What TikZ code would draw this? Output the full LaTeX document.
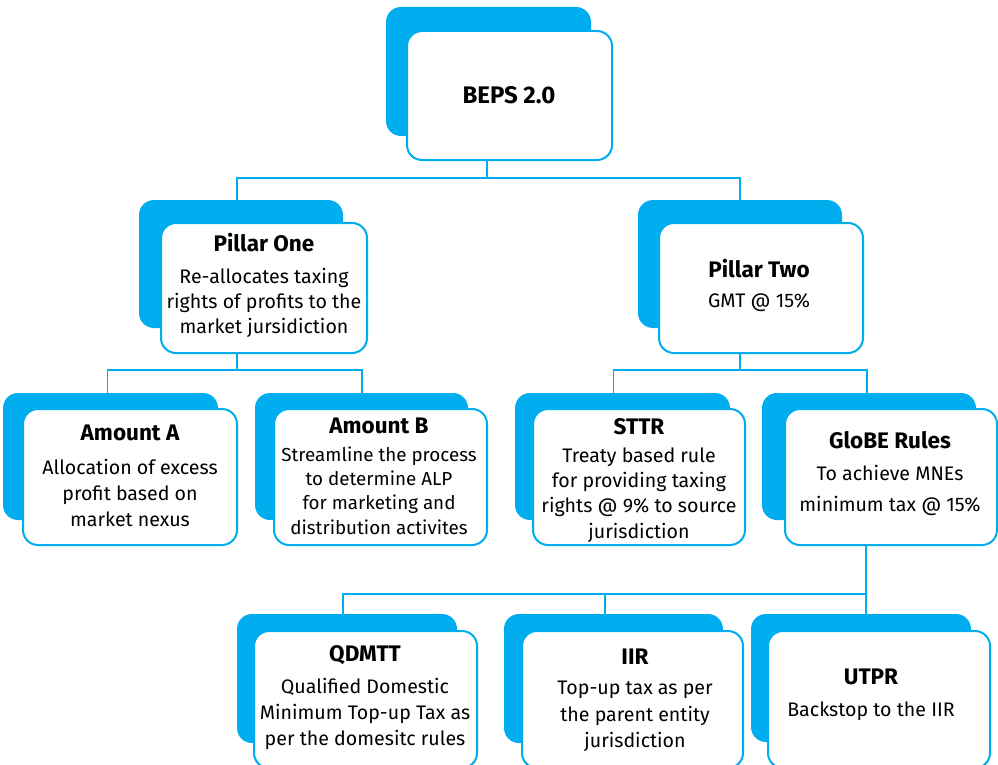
\documentclass[tikz,border=0pt]{standalone}
\usepackage{fontspec}
\setmainfont{Fira Sans}
\definecolor{beps}{RGB}{0,174,239}
\begin{document}
\begin{tikzpicture}[x=1pt,y=-1pt,
  backbox/.style={fill=beps,draw=none,rounded corners=15pt,inner sep=0pt},
  frontbox/.style={fill=white,draw=beps,line width=2pt,rounded corners=15pt,inner sep=0pt},
  link/.style={draw=beps,line width=1.8pt},
  ttl/.style={font=\fontsize{22.5}{26}\selectfont\bfseries,inner sep=0pt},
  body/.style={align=center,inner sep=0pt,font=\fontsize{19.6}{#1}\selectfont},
  body/.default=25]
\useasboundingbox (0,0) rectangle (998,765);
\begin{scope}
\clip (0,0) rectangle (998,765);
% top level
\node[backbox,minimum width=205pt,minimum height=129pt] (bepsB) at (488.5,71.5) {};
\node[frontbox,minimum width=205pt,minimum height=129pt] (bepsF) at (509.5,95.5) {};
% pillars
\node[backbox,minimum width=204pt,minimum height=128pt] (p1B) at (241,264) {};
\node[frontbox,minimum width=206pt,minimum height=130pt] (p1F) at (264,288) {};
\node[backbox,minimum width=204pt,minimum height=128pt] (p2B) at (740,264) {};
\node[frontbox,minimum width=204pt,minimum height=130pt] (p2F) at (761,288) {};
% second row
\node[backbox,minimum width=215pt,minimum height=127pt] (aaB) at (110.5,456.5) {};
\node[frontbox,minimum width=214pt,minimum height=136pt] (aaF) at (130,477) {};
\node[backbox,minimum width=213pt,minimum height=127pt] (abB) at (361.5,456.5) {};
\node[frontbox,minimum width=213pt,minimum height=136pt] (abF) at (380.5,477) {};
\node[backbox,minimum width=215pt,minimum height=127pt] (stB) at (622.5,456.5) {};
\node[frontbox,minimum width=212pt,minimum height=136pt] (stF) at (639,477) {};
\node[backbox,minimum width=214pt,minimum height=127pt] (glB) at (869,456.5) {};
\node[frontbox,minimum width=212pt,minimum height=136pt] (glF) at (891,477) {};
% third row
\node[backbox,minimum width=220pt,minimum height=129pt] (qdB) at (347,678.5) {};
\node[frontbox,minimum width=223pt,minimum height=137pt] (qdF) at (365.5,699.5) {};
\node[backbox,minimum width=219pt,minimum height=129pt] (iiB) at (613.5,678.5) {};
\node[frontbox,minimum width=221pt,minimum height=137pt] (iiF) at (632.5,699.5) {};
\node[backbox,minimum width=220pt,minimum height=128pt] (utB) at (861,678) {};
\node[frontbox,minimum width=222pt,minimum height=137pt] (utF) at (879,699.5) {};
\end{scope}

% connectors
\coordinate (j0) at (487,178);
\draw[link] (bepsF.south -| j0) -- (j0);
\draw[link] ([xshift=-4pt]p1B.north) |- (j0) -| (p2B.north);
\coordinate (j1) at (237,370);
\draw[link] (p1F.south -| j1) -- (j1);
\draw[link] ([xshift=-3pt]aaB.north) |- (j1) -| ([xshift=0.5pt]abB.north);
\coordinate (j2) at (740,370);
\draw[link] (p2F.south -| j2) -- (j2);
\draw[link] ([xshift=-9pt]stB.north) |- (j2) -| ([xshift=-2pt]glB.north);
\coordinate (j3) at (866,594);
\draw[link] (glF.south -| j3) -- (utB.north -| j3);
\draw[link] ([xshift=-4pt]qdB.north) |- (j3);
\draw[link] ([xshift=-8.5pt]iiB.north) -- ([xshift=-8.5pt]iiB.north |- j3);

% labels
\node[ttl,font=\fontsize{24}{28}\selectfont\bfseries] (bepsT) at (509,95) {BEPS 2.0};
\node[ttl] (p1T) at (264,243) {Pillar One};
\node[body] (p1X) at (264,303) {Re-allocates taxing\\rights of profits to the\\market jursidiction};
\node[ttl] (p2T) at (759,269) {Pillar Two};
\node[body] (p2X) at (759,303) {GMT @ 15\%};
\node[ttl] (aaT) at (130,433) {Amount A};
\node[body=26] (aaX) at (130,493) {Allocation of excess\\profit based on\\market nexus};
\node[ttl] (abT) at (379,426) {Amount B};
\node[body=24.3,font=\fontsize{18.8}{24.3}\selectfont] (abX) at (379,490.5) {Streamline the process\\to determine ALP\\for marketing and\\distribution activites};
\node[ttl] (stT) at (639,427) {STTR};
\node[body=25.3] (stX) at (639,495) {Treaty based rule\\for providing taxing\\rights @ 9\% to source\\jurisdiction};
\node[ttl] (glT) at (890,440) {GloBE Rules};
\node[body=31] (glX) at (890,490.5) {To achieve MNEs\\minimum tax @ 15\%};
\node[ttl] (qdT) at (365,655) {QDMTT};
\node[body=26] (qdX) at (365,714) {Qualified Domestic\\Minimum Top-up Tax as\\per the domesitc rules};
\node[ttl] (iiT) at (635,657) {IIR};
\node[body=26.5] (iiX) at (635,716.5) {Top-up tax as per\\the parent entity\\jurisdiction};
\node[ttl] (utT) at (871,677) {UTPR};
\node[body] (utX) at (871,711) {Backstop to the IIR};
\end{tikzpicture}
\end{document}
